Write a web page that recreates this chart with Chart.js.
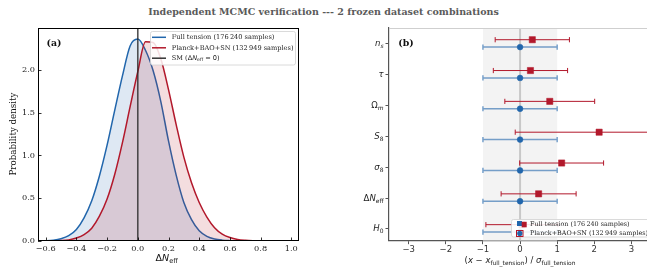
<!DOCTYPE html>
<html>
<head>
<meta charset="utf-8">
<script src="https://cdn.jsdelivr.net/npm/chart.js@4.4.0/dist/chart.umd.min.js"></script>
<style>
html, body { margin: 0; padding: 0; background: #fff; width: 647px; height: 267px; overflow: hidden; position: relative; }
#titulo { position: absolute; left: 0; top: 6px; width: 647px; line-height: 12px; text-align: center; font: bold 9.5px "DejaVu Serif"; color: #5a5a5a; }
#boxA { position: absolute; left: 0; top: 0; }
#boxB { position: absolute; left: 330px; top: 0; }
</style>
</head>
<body>
<div id="titulo">Independent MCMC verification --- 2 frozen dataset combinations</div>
<div id="boxA"><canvas id="chartA" width="320" height="267"></canvas></div>
<div id="boxB"><canvas id="chartB" width="330" height="267"></canvas></div>
<script>
// panel (a): posterior of Delta N_eff
const xDelta = [-0.65, -0.6, -0.55, -0.5, -0.45, -0.4, -0.35, -0.3, -0.25, -0.2, -0.15, -0.1, -0.05, 0,
    0.05, 0.1, 0.15, 0.2, 0.25, 0.3, 0.35, 0.4, 0.45, 0.5, 0.55, 0.6, 0.65, 0.7, 0.75, 0.8, 0.85, 0.9, 0.95, 1.0, 1.05];
const fullTension = [0.001, 0.003, 0.009, 0.026, 0.062, 0.135, 0.27, 0.47, 0.76, 1.12, 1.53, 1.93, 2.28, 2.36,
    2.23, 1.99, 1.63, 1.17, 0.77, 0.45, 0.25, 0.12, 0.055, 0.024, 0.010, 0.004, 0.001, 0, 0, 0, 0, 0, 0, 0, 0];
const planckBaoSn = [0, 0.001, 0.002, 0.005, 0.013, 0.035, 0.075, 0.15, 0.29, 0.49, 0.78, 1.15, 1.57, 1.98,
    2.33, 2.32, 2.13, 1.77, 1.36, 0.98, 0.68, 0.45, 0.28, 0.155, 0.08, 0.04, 0.018, 0.008, 0.003, 0.001, 0, 0, 0, 0, 0];
const xTicksA = [-0.6, -0.4, -0.2, 0, 0.2, 0.4, 0.6, 0.8, 1.0];
const yTicksA = [0, 0.5, 1.0, 1.5, 2.0];

// panel (b): shifts in units of sigma_full_tension
const paramNames = ['n_s', 'τ', 'Ω_m', 'S_8', 'σ_8', 'ΔN_eff', 'H_0'];
const fullShift = [0, 0, 0, 0, 0, 0, 0];
const fullErr = [1, 1, 1, 1, 1, 1, 1];
const planckShift = [0.33, 0.28, 0.80, 2.13, 1.12, 0.50, 0.05];
const planckErr = [1.0, 1.0, 1.21, 2.26, 1.13, 1.01, 0.97];
const xTicksB = [-3, -2, -1, 0, 1, 2, 3];

const AZUL = '#2166ac';
const ROJO = '#b2182b';
const SERIF = '"DejaVu Serif"';
const SANS = '"DejaVu Sans"';

function fmtNum(v, d) {
    return (v < 0 ? '−' : '') + Math.abs(v).toFixed(d);
}

function drawRich(ctx, parts, x, y, size, align) {
    const fonts = parts.map(p => {
        const s = p.sub ? size * 0.7 : size;
        return (p.it ? 'italic ' : '') + (p.b ? 'bold ' : '') + s + 'px ' + (p.fam || SANS);
    });
    let total = 0;
    const ws = parts.map((p, i) => {
        ctx.font = fonts[i];
        const w = ctx.measureText(p.t).width;
        total += w;
        return w;
    });
    let cx = align == 'center' ? x - total / 2 : (align == 'right' ? x - total : x);
    ctx.textAlign = 'left';
    ctx.textBaseline = 'middle';
    parts.forEach((p, i) => {
        ctx.font = fonts[i];
        ctx.fillText(p.t, cx, y + (p.sub ? size * 0.3 : 0));
        cx += ws[i];
    });
}

function mathParts(nombre) {
    const [main, sub] = nombre.split('_');
    const parts = [];
    for (const ch of main) {
        parts.push({ t: ch, it: /[A-Za-zα-ω]/.test(ch) });
    }
    if (sub) {
        parts.push({ t: sub, sub: true, it: sub.length == 1 && /[a-z]/.test(sub) });
    }
    return parts;
}

const panelA = {
    id: 'panelA',
    afterDraw(chart) {
        const { ctx, chartArea: a, scales: { x, y } } = chart;
        ctx.save();
        ctx.strokeStyle = '#000';
        ctx.lineWidth = 0.8;
        ctx.beginPath();
        xTicksA.forEach(v => {
            const px = Math.round(x.getPixelForValue(v)) + 0.5;
            ctx.moveTo(px, a.bottom);
            ctx.lineTo(px, a.bottom - 3.5);
        });
        yTicksA.forEach(v => {
            const py = Math.round(y.getPixelForValue(v)) + 0.5;
            ctx.moveTo(a.left, py);
            ctx.lineTo(a.left + 3.5, py);
        });
        ctx.stroke();
        ctx.lineWidth = 1;
        ctx.strokeRect(a.left + 0.5, a.top + 0.5, a.right - a.left - 1, a.bottom - a.top - 1);

        ctx.fillStyle = '#111';
        ctx.font = 'bold 9.4px ' + SERIF;
        ctx.textAlign = 'left';
        ctx.textBaseline = 'middle';
        ctx.fillText('(a)', 46.5, 43.5);

        // leyenda
        ctx.fillStyle = 'rgba(255,255,255,0.85)';
        ctx.strokeStyle = '#d0d0d0';
        ctx.lineWidth = 0.8;
        ctx.beginPath();
        ctx.roundRect(150.5, 31.5, 145, 33.5, 2);
        ctx.fill();
        ctx.stroke();
        const filas = [37.3, 47.8, 58.2];
        const colores = [AZUL, ROJO, '#333'];
        filas.forEach((fy, i) => {
            ctx.strokeStyle = colores[i];
            ctx.lineWidth = 1.5;
            ctx.beginPath();
            ctx.moveTo(152, fy);
            ctx.lineTo(166, fy);
            ctx.stroke();
        });
        ctx.fillStyle = '#222';
        drawRich(ctx, [{ t: 'Full tension (176\u202F240 samples)', fam: SERIF }], 171.7, filas[0], 6.6, 'left');
        drawRich(ctx, [{ t: 'Planck+BAO+SN (132\u202F949 samples)', fam: SERIF }], 171.7, filas[1], 6.6, 'left');
        drawRich(ctx, [{ t: 'SM (', fam: SERIF }, { t: 'Δ' }, { t: 'N', it: true }, { t: 'eff', sub: true },
            { t: ' = 0' }, { t: ')', fam: SERIF }], 171.7, filas[2], 6.6, 'left');

        // titulos de ejes
        ctx.fillStyle = '#111';
        drawRich(ctx, [{ t: 'Δ' }, { t: 'N', it: true }, { t: 'eff', sub: true }], 166.7, 258.5, 9.5, 'center');
        ctx.translate(13.3, 134);
        ctx.rotate(-Math.PI / 2);
        ctx.font = '8.7px ' + SERIF;
        ctx.textAlign = 'center';
        ctx.textBaseline = 'middle';
        ctx.fillText('Probability density', 0, 0);
        ctx.restore();
    }
};

new Chart(document.getElementById('chartA'), {
    type: 'line',
    data: {
        datasets: [
            {
                label: 'SM',
                data: [{ x: 0, y: -1 }, { x: 0, y: 3 }],
                borderColor: 'rgba(40,40,40,0.8)',
                borderWidth: 1.6,
                pointRadius: 0,
                fill: false,
                order: 0
            },
            {
                label: 'Planck+BAO+SN',
                data: xDelta.map((x, i) => ({ x: x, y: planckBaoSn[i] })),
                borderColor: ROJO,
                backgroundColor: 'rgba(178,24,43,0.15)',
                borderWidth: 1.5,
                pointRadius: 0,
                fill: 'origin',
                cubicInterpolationMode: 'monotone',
                order: 1
            },
            {
                label: 'Full tension',
                data: xDelta.map((x, i) => ({ x: x, y: fullTension[i] })),
                borderColor: AZUL,
                backgroundColor: 'rgba(33,102,172,0.15)',
                borderWidth: 1.5,
                pointRadius: 0,
                fill: 'origin',
                cubicInterpolationMode: 'monotone',
                order: 2
            }
        ]
    },
    options: {
        responsive: false,
        animation: false,
        layout: { padding: { top: 28, right: 21, left: 0, bottom: 0 } },
        plugins: { legend: { display: false }, tooltip: { enabled: false } },
        scales: {
            x: {
                type: 'linear',
                min: -0.65,
                max: 1.05,
                afterBuildTicks: s => { s.ticks = xTicksA.map(v => ({ value: v })); },
                afterFit: s => { s.height = 26; },
                grid: { display: false, drawTicks: false },
                border: { display: false },
                ticks: { callback: v => fmtNum(v, 1), font: { family: SERIF, size: 8.2 }, color: '#222', padding: 3, maxRotation: 0 }
            },
            y: {
                min: 0,
                max: 2.49,
                afterBuildTicks: s => { s.ticks = yTicksA.map(v => ({ value: v })); },
                afterFit: s => { s.width = 38; },
                grid: { display: false, drawTicks: false },
                border: { display: false },
                ticks: { callback: v => fmtNum(v, 1), font: { family: SERIF, size: 8.2 }, color: '#222', padding: 3 }
            }
        }
    },
    plugins: [panelA]
});

const OFF = 0.12;
function filaY(i) {
    return paramNames.length - 1 - i;
}

function barra(ctx, x, y, x0, x1, yp, cap) {
    const p0 = x.getPixelForValue(x0);
    const p1 = x.getPixelForValue(x1);
    const py = y.getPixelForValue(yp);
    ctx.beginPath();
    ctx.moveTo(p0, py);
    ctx.lineTo(p1, py);
    ctx.moveTo(p0, py - cap);
    ctx.lineTo(p0, py + cap);
    ctx.moveTo(p1, py - cap);
    ctx.lineTo(p1, py + cap);
    ctx.stroke();
}

const panelB = {
    id: 'panelB',
    beforeDatasetsDraw(chart) {
        const { ctx, chartArea: a, scales: { x, y } } = chart;
        ctx.save();
        ctx.beginPath();
        ctx.rect(a.left, a.top, a.right - a.left, a.bottom - a.top);
        ctx.clip();
        ctx.fillStyle = '#f3f3f3';
        const b0 = x.getPixelForValue(-1);
        const b1 = x.getPixelForValue(1);
        ctx.fillRect(b0, a.top, b1 - b0, a.bottom - a.top);
        ctx.strokeStyle = 'rgba(185,185,185,0.75)';
        ctx.lineWidth = 2;
        ctx.beginPath();
        ctx.moveTo(x.getPixelForValue(0), a.top);
        ctx.lineTo(x.getPixelForValue(0), a.bottom);
        ctx.stroke();
        paramNames.forEach((n, i) => {
            const yc = filaY(i);
            ctx.strokeStyle = 'rgba(33,102,172,0.6)';
            ctx.lineWidth = 1.5;
            barra(ctx, x, y, fullShift[i] - fullErr[i], fullShift[i] + fullErr[i], yc - OFF, 2.6);
            ctx.strokeStyle = ROJO;
            ctx.lineWidth = 1;
            barra(ctx, x, y, planckShift[i] - planckErr[i], planckShift[i] + planckErr[i], yc + OFF, 2.6);
        });
        ctx.restore();
    },
    afterDraw(chart) {
        const { ctx, chartArea: a, scales: { x, y } } = chart;
        ctx.save();
        ctx.strokeStyle = '#cfcfcf';
        ctx.lineWidth = 1;
        ctx.beginPath();
        ctx.moveTo(a.left, a.top + 0.5);
        ctx.lineTo(a.right, a.top + 0.5);
        ctx.stroke();

        ctx.strokeStyle = '#555';
        ctx.lineWidth = 1;
        ctx.fillStyle = '#222';
        paramNames.forEach((n, i) => {
            const py = Math.round(y.getPixelForValue(filaY(i))) + 0.5;
            ctx.beginPath();
            ctx.moveTo(a.left - 3.5, py);
            ctx.lineTo(a.left, py);
            ctx.stroke();
            drawRich(ctx, mathParts(n), a.left - 5.5, py, 8.5, 'right');
        });

        ctx.fillStyle = '#111';
        ctx.font = 'bold 9.4px ' + SERIF;
        ctx.textAlign = 'left';
        ctx.textBaseline = 'middle';
        ctx.fillText('(b)', 68.3, 44);

        ctx.fillStyle = '#222';
        drawRich(ctx, [{ t: '(' }, { t: 'x', it: true }, { t: ' − ' }, { t: 'x', it: true }, { t: 'full_tension', sub: true },
            { t: ') / ' }, { t: 'σ', it: true }, { t: 'full_tension', sub: true }], 190, 260.5, 8.5, 'center');

        // leyenda
        ctx.fillStyle = 'rgba(255,255,255,0.88)';
        ctx.strokeStyle = '#d0d0d0';
        ctx.lineWidth = 0.8;
        ctx.beginPath();
        ctx.roundRect(181.5, 219.5, 145, 17.5, 2);
        ctx.fill();
        ctx.stroke();
        ctx.fillStyle = AZUL;
        ctx.fillRect(187, 221, 5, 5);
        ctx.fillStyle = ROJO;
        ctx.fillRect(191.7, 221.8, 5, 5.5);
        ctx.strokeStyle = ROJO;
        ctx.lineWidth = 1;
        ctx.strokeRect(186.5, 230.5, 6.5, 6);
        ctx.fillStyle = AZUL;
        ctx.beginPath();
        ctx.arc(189.8, 233.4, 2.6, 0, Math.PI * 2);
        ctx.fill();
        ctx.fillStyle = '#222';
        drawRich(ctx, [{ t: 'Full tension (176\u202F240 samples)', fam: SERIF }], 200, 224.2, 6.4, 'left');
        drawRich(ctx, [{ t: 'Planck+BAO+SN (132\u202F949 samples)', fam: SERIF }], 200, 233.4, 6.4, 'left');
        ctx.restore();
    }
};

new Chart(document.getElementById('chartB'), {
    type: 'scatter',
    data: {
        datasets: [
            {
                label: 'Planck+BAO+SN',
                data: planckShift.map((v, i) => ({ x: v, y: filaY(i) + OFF })),
                pointStyle: 'rect',
                pointRadius: 4.4,
                backgroundColor: ROJO,
                borderColor: ROJO,
                borderWidth: 0.5,
                order: 0
            },
            {
                label: 'Full tension',
                data: fullShift.map((v, i) => ({ x: v, y: filaY(i) - OFF })),
                pointStyle: 'circle',
                pointRadius: 2.9,
                backgroundColor: AZUL,
                borderColor: AZUL,
                borderWidth: 0.5,
                order: 1
            }
        ]
    },
    options: {
        responsive: false,
        animation: false,
        clip: false,
        layout: { padding: { top: 28, right: 10, left: 0, bottom: 0 } },
        plugins: { legend: { display: false }, tooltip: { enabled: false } },
        scales: {
            x: {
                type: 'linear',
                min: -3.53,
                max: 3.5,
                afterBuildTicks: s => { s.ticks = xTicksB.map(v => ({ value: v })); },
                afterFit: s => { s.height = 26.3; },
                grid: { display: true, drawOnChartArea: false, drawTicks: true, tickLength: 3.5, color: '#555' },
                border: { display: true, color: '#555', width: 1.2 },
                ticks: { callback: v => fmtNum(v, 0), font: { family: SANS, size: 8.5 }, color: '#333', padding: 0, maxRotation: 0 }
            },
            y: {
                min: -0.4,
                max: 6.5,
                afterFit: s => { s.width = 59; },
                grid: { display: false },
                border: { display: true, color: '#555', width: 1.2 },
                ticks: { display: false }
            }
        }
    },
    plugins: [panelB]
});
</script>
</body>
</html>
